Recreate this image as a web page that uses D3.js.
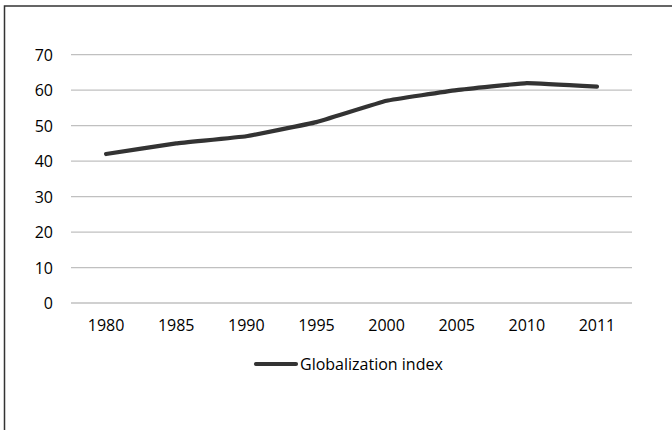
<!DOCTYPE html>
<html>
<head>
<meta charset="utf-8">
<script src="https://cdn.jsdelivr.net/npm/d3@7"></script>
<style>
	body { margin: 0; background: white; }
	svg text { font-family: "Open Sans", sans-serif; fill: #000; }
</style>
</head>
<body>
<div id="chart"></div>
<script>
// Chart values.
let years = ["1980", "1985", "1990", "1995", "2000", "2005", "2010", "2011"];
let globalization = [42, 45, 47, 51, 57, 60, 62, 61];
let yticks = [0, 10, 20, 30, 40, 50, 60, 70];
let seriesName = "Globalization index";


let width = 672, height = 430;
let margin = {left: 71, right: 40, top: 55, bottom: 127};
let fontSize = "16px";

let svg = d3.select("#chart")
  .append("svg")
	.attr("width", width)
	.attr("height", height);

// Outer frame, only left and top edges are inside the picture.
svg.append("rect")
	.attr("x", 4.5)
	.attr("y", 6)
	.attr("width", width + 10)
	.attr("height", height + 10)
	.attr("fill", "none")
	.attr("stroke", "#333")
	.attr("stroke-width", 1.5);

let x = d3.scaleBand()
	.domain(years)
	.range([margin.left, width - margin.right]);

let y = d3.scaleLinear()
	.domain([0, 70])
	.range([height - margin.bottom, margin.top - 0.3]);


// Gridlines.
svg.append("g")
	.attr("class", "grid")
  .selectAll("line")
  .data(yticks)
  .enter()
  .append("line")
	.attr("x1", margin.left)
	.attr("x2", width - margin.right)
	.attr("y1", d=>y(d))
	.attr("y2", d=>y(d))
	.attr("stroke", "#c0c0c0")
	.attr("stroke-width", 1.3);


// Y axis labels.
let yaxis = svg.append("g")
	.attr("transform", `translate(${margin.left - 18},0)`)
	.call(d3.axisLeft(y).tickValues(yticks).tickSize(0).tickPadding(0));
yaxis.select(".domain").remove();
yaxis.selectAll("text")
	.style("font-size", fontSize)
	.attr("dy", "0.36em");


// X axis labels.
let xaxis = svg.append("g")
	.attr("transform", `translate(0,${y(0)})`)
	.call(d3.axisBottom(x).tickSize(0).tickPadding(17));
xaxis.select(".domain").remove();
xaxis.selectAll("text")
	.style("font-size", fontSize);


// The series line.
let line = d3.line()
	.x((d,i)=>x(years[i]) + x.bandwidth()/2)
	.y(d=>y(d))
	.curve(d3.curveCardinal.tension(0.75));

svg.append("path")
	.datum(globalization)
	.attr("d", line)
	.attr("fill", "none")
	.attr("stroke", "#333")
	.attr("stroke-width", 4.2)
	.attr("stroke-linecap", "round")
	.attr("stroke-linejoin", "round");


// Legend.
let legend = svg.append("g")
	.attr("transform", "translate(256,364)");
legend.append("line")
	.attr("x1", 0)
	.attr("x2", 40)
	.attr("stroke", "#333")
	.attr("stroke-width", 4.2)
	.attr("stroke-linecap", "round");
legend.append("text")
	.attr("x", 44)
	.attr("dy", "0.36em")
	.style("font-size", fontSize)
	.text(seriesName);
</script>
</body>
</html>
